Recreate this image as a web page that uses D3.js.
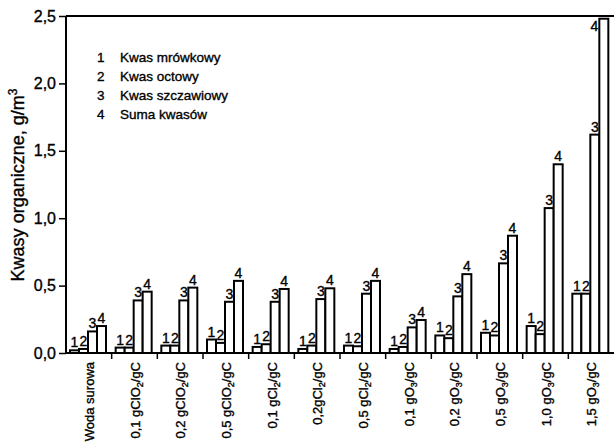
<!DOCTYPE html>
<html>
<head>
<meta charset="utf-8">
<script src="https://cdn.jsdelivr.net/npm/d3@7"></script>
<style>
  html, body { margin: 0; padding: 0; background: #fff; }
  svg { display: block; font-family: Arial, "Liberation Sans", sans-serif; }
</style>
</head>
<body>
<svg id="chart" width="614" height="447"></svg>
<script>
// Treatment variants (x categories): [text, subscript, tail]
const categories = [
  ["Woda surowa", "", ""],
  ["0,1 gClO", "2", "/gC"],
  ["0,2 gClO", "2", "/gC"],
  ["0,5 gClO", "2", "/gC"],
  ["0,1 gCl", "2", "/gC"],
  ["0,2gCl", "2", "/gC"],
  ["0,5 gCl", "2", "/gC"],
  ["0,1 gO", "3", "/gC"],
  ["0,2 gO", "3", "/gC"],
  ["0,5 gO", "3", "/gC"],
  ["1,0 gO", "3", "/gC"],
  ["1,5 gO", "3", "/gC"]
];

// Series: organic acids, g/m3
const seriesNames = ["Kwas mrówkowy", "Kwas octowy", "Kwas szczawiowy", "Suma kwasów"];
const formic  = [0.02, 0.04, 0.055, 0.10, 0.045, 0.03, 0.055, 0.03, 0.13, 0.15, 0.20, 0.44];
const acetic  = [0.03, 0.04, 0.055, 0.075, 0.065, 0.055, 0.05, 0.045, 0.11, 0.13, 0.14, 0.44];
const oxalic  = [0.16, 0.39, 0.39, 0.38, 0.38, 0.40, 0.44, 0.19, 0.42, 0.665, 1.075, 1.62];
const total   = [0.20, 0.455, 0.485, 0.535, 0.475, 0.48, 0.535, 0.245, 0.585, 0.87, 1.40, 2.48];
const series = [formic, acetic, oxalic, total];

const yTicks = [0, 0.5, 1.0, 1.5, 2.0, 2.5];
const yTitle = "Kwasy organiczne, g/m";

const svg = d3.select("#chart");
const mLeft = 66, mRight = 614, mTop = 16, mBottom = 353;

const x = d3.scaleBand().domain(d3.range(categories.length)).range([mLeft, mRight]).paddingInner(0).paddingOuter(0);
const y = d3.scaleLinear().domain([0, 2.5]).range([mBottom, mTop]);
const inner = d3.scaleBand().domain(d3.range(4)).range([4, 40]).padding(0);

const fmt = v => d3.format(".1f")(v).replace(".", ",");

// Heavier text strokes, like printed type
const ink = sel => sel.attr("fill", "#000").attr("stroke", "#000").attr("stroke-width", 0.35);

// Frame top line
svg.append("line").attr("x1", mLeft).attr("x2", mRight).attr("y1", mTop).attr("y2", mTop)
  .attr("stroke", "#000").attr("stroke-width", 2);

// Bars with their series numbers
const groups = svg.append("g").selectAll("g").data(categories).join("g")
  .attr("transform", (d, i) => `translate(${x(i)},0)`);

groups.each(function(d, i) {
  const g = d3.select(this);
  series.forEach((s, k) => {
    const v = s[i];
    g.append("rect")
      .attr("x", inner(k)).attr("width", inner.bandwidth())
      .attr("y", y(v)).attr("height", y(0) - y(v))
      .attr("fill", "#fff").attr("stroke", "#000").attr("stroke-width", 2);
  });
  series.forEach((s, k) => {
    const v = s[i];
    let lx = inner(k) + inner.bandwidth() / 2;
    let ly = y(v) - 3;
    let anchor = "middle";
    if (ly - 10 < mTop) { lx = inner(k) - 1; ly = y(v) + 12; anchor = "end"; }
    g.append("text").attr("x", lx).attr("y", ly)
      .attr("text-anchor", anchor).attr("font-size", 14)
      .call(ink).text(k + 1);
  });
});

// Y axis
const yAxis = d3.axisLeft(y).tickValues(yTicks).tickFormat(fmt).tickSize(7).tickPadding(3);
const ya = svg.append("g").attr("transform", `translate(${mLeft},0)`).call(yAxis);
ya.select(".domain").attr("stroke-width", 2).attr("d", `M0,${mTop}V${mBottom}`);
ya.selectAll(".tick line").attr("stroke-width", 1.5);
ya.selectAll(".tick text").attr("font-size", 16).attr("font-family", "Arial, 'Liberation Sans', sans-serif").call(ink);

// X axis: boundary ticks between groups
const xa = svg.append("g");
xa.append("line").attr("x1", mLeft).attr("x2", mRight).attr("y1", mBottom).attr("y2", mBottom)
  .attr("stroke", "#000").attr("stroke-width", 2);
xa.selectAll("line.tk").data(d3.range(1, categories.length)).join("line").attr("class", "tk")
  .attr("x1", i => x(i)).attr("x2", i => x(i)).attr("y1", mBottom).attr("y2", mBottom + 6)
  .attr("stroke", "#000").attr("stroke-width", 1.5);

// Category labels, rotated
categories.forEach((c, i) => {
  const cx = x(i) + x.bandwidth() / 2 + 5;
  const t = svg.append("text")
    .attr("transform", `translate(${cx},362) rotate(-90)`)
    .attr("text-anchor", "end").attr("font-size", 13).call(ink);
  t.append("tspan").text(c[0]);
  if (c[1]) {
    t.append("tspan").attr("font-size", 9).attr("dy", 3).text(c[1]);
    t.append("tspan").attr("dy", -3).text(c[2]);
  }
});

// Y axis title
const yt = svg.append("text")
  .attr("transform", "translate(24,185) rotate(-90)")
  .attr("text-anchor", "middle").attr("font-size", 18).call(ink);
yt.append("tspan").text(yTitle);
yt.append("tspan").attr("font-size", 12).attr("dy", -7).text("3");

// Legend
const lg = svg.append("g");
seriesNames.forEach((n, k) => {
  lg.append("text").attr("x", 97).attr("y", 62 + k * 19)
    .attr("font-size", 13.5).call(ink).text(k + 1);
  lg.append("text").attr("x", 120).attr("y", 62 + k * 19)
    .attr("font-size", 13.5).call(ink).text(n);
});
</script>
</body>
</html>
